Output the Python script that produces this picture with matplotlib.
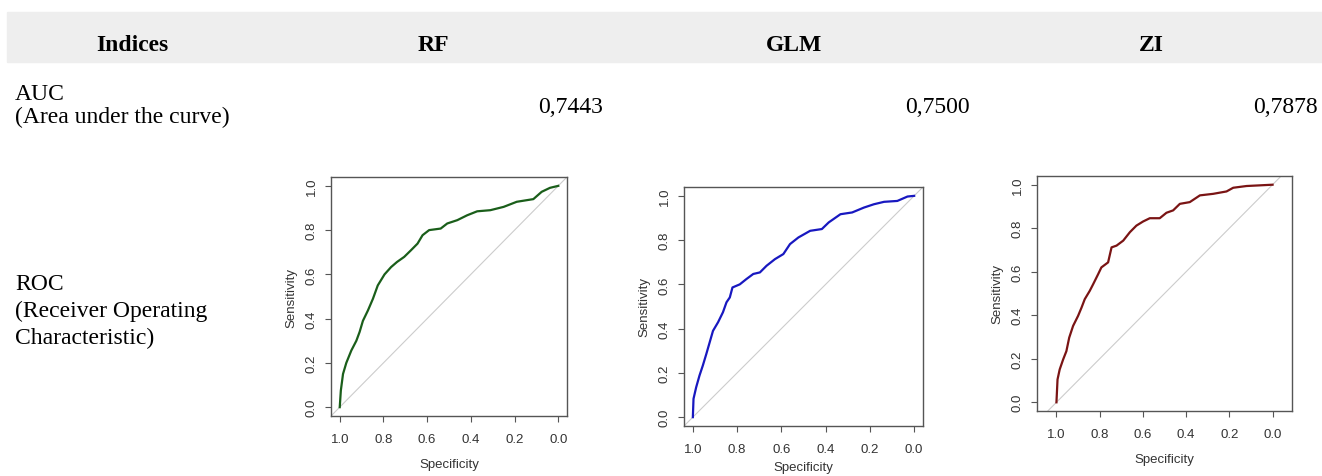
import matplotlib
matplotlib.use("Agg")
import matplotlib.pyplot as plt
from matplotlib.patches import Rectangle

W, H = 1322, 477

# table text
headers = ["Indices", "RF", "GLM", "ZI"]
auc_values = ["0,7443", "0,7500", "0,7878"]
auc_label = ["AUC", "(Area under the curve)"]
roc_label = ["ROC", "(Receiver Operating", "Characteristic)"]

# ROC curves (specificity, sensitivity)
rf_spec = [1.0, 0.995, 0.985, 0.97, 0.947, 0.924, 0.909, 0.894, 0.871, 0.848, 0.826, 0.795,
           0.765, 0.738, 0.705, 0.674, 0.644, 0.621, 0.591, 0.538, 0.508, 0.462, 0.417,
           0.371, 0.311, 0.25, 0.19, 0.114, 0.076, 0.038, 0.0]
rf_sens = [0.0, 0.075, 0.15, 0.20, 0.256, 0.30, 0.34, 0.39, 0.437, 0.49, 0.55, 0.60,
           0.633, 0.656, 0.679, 0.709, 0.739, 0.777, 0.80, 0.807, 0.83, 0.845, 0.867,
           0.885, 0.89, 0.905, 0.928, 0.94, 0.973, 0.991, 1.0]

glm_spec = [1.0, 0.997, 0.985, 0.97, 0.955, 0.939, 0.924, 0.909, 0.886, 0.864, 0.848, 0.833,
            0.821, 0.788, 0.758, 0.727, 0.697, 0.667, 0.629, 0.591, 0.561, 0.523, 0.47,
            0.417, 0.386, 0.333, 0.28, 0.227, 0.182, 0.136, 0.076, 0.03, 0.0]
glm_sens = [0.0, 0.083, 0.135, 0.188, 0.233, 0.286, 0.338, 0.39, 0.429, 0.474, 0.519, 0.541,
            0.586, 0.60, 0.624, 0.647, 0.654, 0.684, 0.714, 0.737, 0.782, 0.812, 0.842,
            0.85, 0.88, 0.917, 0.925, 0.947, 0.962, 0.973, 0.977, 0.997, 1.0]

zi_spec = [1.0, 0.995, 0.985, 0.969, 0.954, 0.941, 0.923, 0.90, 0.884, 0.869, 0.846, 0.830,
           0.807, 0.792, 0.761, 0.745, 0.722, 0.691, 0.66, 0.63, 0.599, 0.568, 0.522,
           0.491, 0.46, 0.429, 0.383, 0.336, 0.275, 0.213, 0.182, 0.12, 0.059, 0.0]
zi_sens = [0.0, 0.105, 0.151, 0.197, 0.235, 0.297, 0.351, 0.397, 0.435, 0.474, 0.512, 0.543,
           0.589, 0.62, 0.643, 0.712, 0.72, 0.743, 0.782, 0.812, 0.831, 0.846, 0.846,
           0.871, 0.882, 0.912, 0.92, 0.951, 0.958, 0.969, 0.986, 0.994, 0.997, 1.0]

serif = "Liberation Serif"
sans = "Liberation Sans"

fig = plt.figure(figsize=(W / 100, H / 100), dpi=100)

def fx(px):
    return px / W

def fy(py):
    return 1 - py / H

# grey header band
fig.patches.append(Rectangle((fx(7), fy(63)), fx(W) - fx(7), 50 / H,
                             transform=fig.transFigure, color="#eeeeee", zorder=0))

header_x = [132, 433, 794, 1151]
for name, x in zip(headers, header_x):
    fig.text(fx(x), fy(51), name, ha="center", va="baseline", fontsize=17,
             fontweight="bold", family=serif)

# AUC row
for line, base in zip(auc_label, [100, 123]):
    fig.text(fx(15), fy(base), line, ha="left", va="baseline", fontsize=17, family=serif)
for val, x in zip(auc_values, [603, 970, 1318]):
    fig.text(fx(x), fy(113), val, ha="right", va="baseline", fontsize=17, family=serif)

# ROC row
for line, base in zip(roc_label, [290, 317, 344]):
    fig.text(fx(15), fy(base), line, ha="left", va="baseline", fontsize=17, family=serif)

panels = [
    (rf_spec, rf_sens, "#1a5e1a", (331, 178, 567, 417), 0.04, 9),
    (glm_spec, glm_sens, "#1818c0", (684, 188, 923, 427), 0.04, 4),
    (zi_spec, zi_sens, "#7a1414", (1037, 177, 1292, 412), 0.09, 9),
]

for spec, sens, col, (l, t, r, b), xpad, xlpad in panels:
    ax = fig.add_axes([fx(l), fy(b), (r - l) / W, (b - t) / H])
    ax.axline((1, 0), (0, 1), color="#cccccc", lw=0.8, zorder=1)
    ax.plot(spec, sens, color=col, lw=1.6, zorder=2)
    ax.set_xlim(1 + xpad, -xpad)
    ax.set_ylim(-0.04, 1.04)
    ticks = [1.0, 0.8, 0.6, 0.4, 0.2, 0.0]
    ax.set_xticks(ticks)
    ax.set_yticks(ticks[::-1])
    ax.tick_params(direction="out", length=4.5, width=0.8, color="#555555",
                   labelcolor="#333333", labelsize=9.5, pad=5)
    ax.tick_params(axis="x", pad=8)
    ax.tick_params(axis="y", labelrotation=90)
    for lab in ax.get_yticklabels():
        lab.set_va("center")
        lab.set_family(sans)
    for lab in ax.get_xticklabels():
        lab.set_family(sans)
    for sp in ax.spines.values():
        sp.set_color("#555555")
        sp.set_linewidth(1.0)
    ax.set_xlabel("Specificity", fontsize=9.5, color="#333333", family=sans, labelpad=xlpad)
    ax.set_ylabel("Sensitivity", fontsize=9.5, color="#333333", family=sans, labelpad=6)

fig.savefig("out.png", dpi=100)
